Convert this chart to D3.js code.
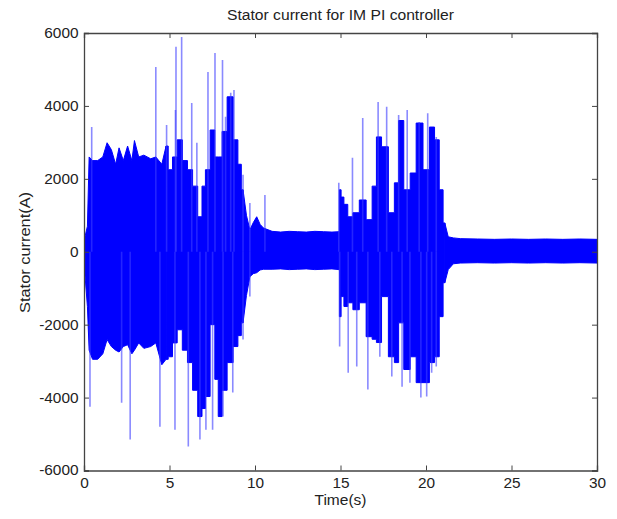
<!DOCTYPE html>
<html>
<head>
<meta charset="utf-8">
<script src="https://cdn.jsdelivr.net/npm/d3@7"></script>
<style>
  html, body { margin: 0; padding: 0; background: #fff; }
  svg text { font-family: "Liberation Sans", Arial, sans-serif; fill: #222; }
</style>
</head>
<body>
<svg id="chart" width="617" height="519"></svg>
<script>
// ---- data ----
const xTicks = [0, 5, 10, 15, 20, 25, 30];
const yTicks = [-6000, -4000, -2000, 0, 2000, 4000, 6000];

// envelope of the dense oscillation (time in s, current in A)
const envTime = [0, 0.2, 0.3, 0.5, 0.8, 1.1, 1.35, 1.6, 1.85, 2.05, 2.3, 2.55, 2.8, 2.95, 3.2, 3.5, 3.9, 4.2, 4.55, 4.8,
  5.05, 5.3, 5.6, 5.9, 6.2, 6.5, 6.8, 7.0, 7.2, 7.55, 7.75, 7.95, 8.2, 8.54, 8.9, 9.1, 9.3, 9.5, 9.7, 9.9,
  10.1, 10.3, 10.5, 11, 11.5, 12, 12.5, 13, 13.5, 14, 14.5, 14.9,
  14.97, 15.1, 15.3, 15.55, 15.9, 16.3, 16.7, 17.0, 17.2, 17.6, 18.0, 18.3, 18.5, 18.9, 19.25, 19.6, 20.05, 20.35, 20.65, 20.9, 21.1, 21.3, 21.6,
  22, 23, 24, 25, 26, 27, 28, 29, 30];
const envHigh = [300, 700, 2600, 2500, 2500, 2600, 2990, 2800, 2400, 2850, 2500, 2900, 2500, 3050, 2600, 2650, 2550, 2600, 2400, 2900,
  2250, 2600, 3070, 2500, 2250, 1800, 960, 1800, 2250, 3340, 2600, 2600, 3300, 4250, 3070, 2400, 1700, 1000, 600, 800,
  960, 750, 650, 560, 540, 560, 550, 540, 560, 550, 540, 550,
  1700, 1500, 1300, 960, 1070, 1420, 880, 1800, 3150, 2880, 1070, 1890, 3600, 1700, 2160, 3530, 2250, 3420, 3070, 1700, 790, 410, 380,
  360, 350, 340, 350, 340, 350, 340, 350, 340];
const envLow = [-300, -1500, -2700, -2950, -2950, -2800, -2410, -2600, -2700, -2750, -2600, -2550, -2800, -2700, -2500, -2650, -2600, -2500, -3100, -2950,
  -2880, -2500, -2140, -2700, -3040, -3800, -4520, -4300, -3970, -2000, -3500, -4520, -3800, -3040, -2600, -2300, -1950, -1200, -685, -600,
  -575, -500, -480, -480, -470, -490, -480, -470, -490, -480, -470, -490,
  -1780, -1230, -1500, -1400, -1590, -1400, -2330, -2400, -2490, -1230, -2880, -3040, -1950, -3230, -2880, -3590, -3590, -3040, -2880, -1780, -850, -490, -330,
  -310, -300, -310, -300, -310, -300, -310, -300, -310];

// isolated positive spikes
const upSpikeTime = [0.45, 4.2, 4.83, 5.35, 5.38, 5.71, 6.3, 6.6, 7.25, 7.66, 8.1, 8.28, 8.58, 8.77, 9.3, 9.7, 10.58,
  14.9, 15.7, 16.3, 17.2, 17.7, 18.4, 18.9, 19.6, 20.1, 20.6];
const upSpikePeak = [3420, 5070, 3480, 3890, 5620, 5890, 4080, 2990, 4930, 5450, 5260, 3700, 4360, 4440, 2110, 1340, 1560,
  1890, 2580, 3670, 4110, 3980, 3750, 3890, 3560, 3800, 3150];
// isolated negative spikes
const downSpikeTime = [0.35, 2.2, 2.7, 4.44, 5.32, 6.1, 6.78, 7.13, 7.52, 8.13, 8.7, 9.3, 9.7,
  14.95, 15.45, 15.95, 16.6, 17.3, 18.0, 18.6, 19.06, 19.7, 20.04, 20.33, 20.6];
const downSpikeTrough = [-4250, -4140, -5150, -4800, -4880, -5340, -5150, -4880, -4880, -4520, -3860, -2410, -1230,
  -2600, -3320, -3150, -3780, -2880, -3420, -3700, -3590, -4000, -3970, -3320, -3150];

// time windows drawn as stepped columns (the bursts)
const burstWindows = [[5.05, 9.3], [14.97, 21.1]];

// ---- layout ----
const svg = d3.select("#chart");
const pLeft = 84, pRight = 597, pTop = 33, pBottom = 470.5;
const x = d3.scaleLinear().domain([0, 30]).range([pLeft, pRight]);
const y = d3.scaleLinear().domain([-6000, 6000]).range([pBottom, pTop]);

const env = envTime.map((t, i) => ({t, hi: envHigh[i], lo: envLow[i]}));
const blue = "#0000ff";

svg.append("defs").append("clipPath").attr("id", "clip")
  .append("rect").attr("x", pLeft).attr("y", pTop).attr("width", pRight - pLeft).attr("height", pBottom - pTop);

const g = svg.append("g").attr("clip-path", "url(#clip)");

// split into calm (linear) and burst (stepped) segments
const inBurst = t => burstWindows.some(([a, b]) => t >= a && t <= b);
const segments = [];
let cur = null;
env.forEach((d) => {
  const b = inBurst(d.t);
  if (!cur || cur.burst !== b) {
    const prev = cur ? cur.pts[cur.pts.length - 1] : null;
    cur = {burst: b, pts: prev ? [prev] : []};
    segments.push(cur);
  }
  cur.pts.push(d);
});

const areaLinear = d3.area().x(d => x(d.t)).y0(d => y(d.lo)).y1(d => y(d.hi));
const areaStep = d3.area().curve(d3.curveStep).x(d => x(d.t)).y0(d => y(d.lo)).y1(d => y(d.hi));

g.selectAll("path.env").data(segments).join("path")
  .attr("class", "env")
  .attr("fill", blue)
  .attr("stroke", blue)
  .attr("stroke-width", 1)
  .attr("d", s => (s.burst ? areaStep : areaLinear)(s.pts));

g.selectAll("line.up").data(upSpikeTime).join("line")
  .attr("class", "up")
  .attr("x1", d => x(d)).attr("x2", d => x(d))
  .attr("y1", y(0)).attr("y2", (d, i) => y(upSpikePeak[i]))
  .attr("stroke", "rgba(60,60,255,0.6)").attr("stroke-width", 1.6);

g.selectAll("line.down").data(downSpikeTime).join("line")
  .attr("class", "down")
  .attr("x1", d => x(d)).attr("x2", d => x(d))
  .attr("y1", y(0)).attr("y2", (d, i) => y(downSpikeTrough[i]))
  .attr("stroke", "rgba(60,60,255,0.6)").attr("stroke-width", 1.6);

// ---- axes (MATLAB style box, inward ticks) ----
const axisColor = "#444";
const tickLen = 5;
const fmt = d => String(d);
const axB = svg.append("g").attr("transform", `translate(0,${pBottom})`)
  .call(d3.axisBottom(x).tickValues(xTicks).tickSize(-tickLen).tickPadding(8).tickFormat(fmt));
const axT = svg.append("g").attr("transform", `translate(0,${pTop})`)
  .call(d3.axisTop(x).tickValues(xTicks).tickSize(-tickLen).tickFormat(""));
const axL = svg.append("g").attr("transform", `translate(${pLeft},0)`)
  .call(d3.axisLeft(y).tickValues(yTicks).tickSize(-tickLen).tickPadding(5).tickFormat(fmt));
const axR = svg.append("g").attr("transform", `translate(${pRight},0)`)
  .call(d3.axisRight(y).tickValues(yTicks).tickSize(-tickLen).tickFormat(""));

[axB, axT, axL, axR].forEach(a => {
  a.select(".domain").attr("stroke", axisColor).attr("stroke-width", 1.3);
  a.selectAll(".tick line").attr("stroke", axisColor);
  a.selectAll("text").attr("font-size", 14).attr("fill", "#222")
    .attr("font-family", "'Liberation Sans', Arial, sans-serif")
    .attr("transform", "scale(1.1,1)");
});

// ---- titles ----
svg.append("text").attr("x", (pLeft + pRight) / 2).attr("y", 20)
  .attr("text-anchor", "middle").attr("font-size", 14)
  .attr("textLength", 227).attr("lengthAdjust", "spacingAndGlyphs")
  .text("Stator current for IM PI controller");
svg.append("text").attr("x", (pLeft + pRight) / 2).attr("y", 505)
  .attr("text-anchor", "middle").attr("font-size", 14)
  .attr("textLength", 52).attr("lengthAdjust", "spacingAndGlyphs")
  .text("Time(s)");
svg.append("text").attr("transform", `translate(30,252.5) rotate(-90)`)
  .attr("text-anchor", "middle").attr("font-size", 14)
  .attr("textLength", 121).attr("lengthAdjust", "spacingAndGlyphs")
  .text("Stator current(A)");
</script>
</body>
</html>
